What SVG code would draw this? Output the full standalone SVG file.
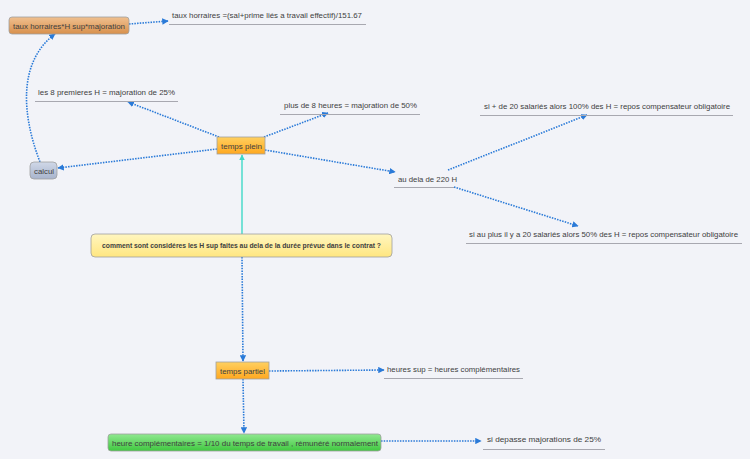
<svg xmlns="http://www.w3.org/2000/svg" width="750" height="459" viewBox="0 0 750 459">
<style>
text{font-family:"Liberation Sans","DejaVu Sans",sans-serif;font-size:7.6px;fill:#404040}
.c{fill:none;stroke:#2a7ad8;stroke-width:1.6;stroke-dasharray:1.5 1.2;marker-end:url(#a)}
.u{stroke:#a8a8b0;stroke-width:1}
.b{stroke:#a0a0a0;stroke-width:0.8}
</style>
<defs>
<marker id="a" viewBox="0 0 10 10" refX="9" refY="5" markerWidth="4" markerHeight="4" orient="auto"><path d="M0,0 L10,5 L0,10 Z" fill="#2a7ad8"/></marker>
<marker id="t" viewBox="0 0 10 10" refX="9" refY="5" markerWidth="4" markerHeight="4" orient="auto"><path d="M0,0 L10,5 L0,10 Z" fill="#40d8c8"/></marker>
<linearGradient id="og" x1="0" y1="0" x2="0" y2="1"><stop offset="0" stop-color="#f0c090"/><stop offset="1" stop-color="#d8904c"/></linearGradient>
<linearGradient id="yg" x1="0" y1="0" x2="0" y2="1"><stop offset="0" stop-color="#fff6c0"/><stop offset="1" stop-color="#ffe680"/></linearGradient>
<linearGradient id="pg" x1="0" y1="0" x2="0" y2="1"><stop offset="0" stop-color="#ffd060"/><stop offset="1" stop-color="#ffa820"/></linearGradient>
<linearGradient id="gg" x1="0" y1="0" x2="0" y2="1"><stop offset="0" stop-color="#90e890"/><stop offset="1" stop-color="#40c840"/></linearGradient>
<linearGradient id="bg" x1="0" y1="0" x2="0" y2="1"><stop offset="0" stop-color="#d0d8e8"/><stop offset="1" stop-color="#a8b4cc"/></linearGradient>
</defs>
<rect width="750" height="459" fill="#f2f3f8"/>
<g id="connectors">
<path class="c" d="M129,24 L168,21"/>
<path class="c" d="M40,162 C20,110 20,60 55,34"/>
<path class="c" d="M219,137 L128,102"/>
<path class="c" d="M264,137 L328,113"/>
<path class="c" d="M217,149 L58,168"/>
<path class="c" d="M265,150 L395,172"/>
<path class="c" d="M448,170 L587,115"/>
<path class="c" d="M454,187 L578,226"/>
<path d="M242,234 L242,155" fill="none" stroke="#40d8c8" stroke-width="1.4" marker-end="url(#t)"/>
<path class="c" d="M242,257 L243,361"/>
<path class="c" d="M269,371 L384,370"/>
<path class="c" d="M243,379 L244,433"/>
<path class="c" d="M381,441 L481,441"/>
</g>
<g id="taux-calc"><rect x="9" y="17" width="120" height="17" rx="3" fill="url(#og)" class="b"/><text x="13" y="28.5" textLength="112" lengthAdjust="spacingAndGlyphs">taux horraires*H sup*majoration</text></g>
<g id="taux-def"><text x="172" y="18" textLength="190" lengthAdjust="spacingAndGlyphs">taux horraires =(sal+prime liés a travail effectif)/151.67</text><line class="u" x1="169" y1="24.5" x2="366" y2="24.5"/></g>
<g id="premieres"><text x="38" y="95" textLength="137" lengthAdjust="spacingAndGlyphs">les 8 premieres H = majoration de 25%</text><line class="u" x1="35" y1="101.5" x2="178" y2="101.5"/></g>
<g id="plus8"><text x="284" y="108" textLength="133" lengthAdjust="spacingAndGlyphs">plus de 8 heures = majoration de 50%</text><line class="u" x1="280" y1="114.5" x2="420" y2="114.5"/></g>
<g id="temps-plein"><rect x="217" y="137" width="48" height="17" fill="url(#pg)" class="b"/><text x="221" y="148.5" textLength="41" lengthAdjust="spacingAndGlyphs">temps plein</text></g>
<g id="calcul"><rect x="30" y="162" width="27" height="17" rx="4" fill="url(#bg)" class="b"/><text x="34" y="173.5" textLength="20" lengthAdjust="spacingAndGlyphs">calcul</text></g>
<g id="au-dela"><text x="398" y="182" textLength="59" lengthAdjust="spacingAndGlyphs">au dela de 220 H</text><line class="u" x1="394" y1="187.5" x2="454" y2="187.5"/></g>
<g id="plus20"><text x="484" y="109" textLength="246" lengthAdjust="spacingAndGlyphs">si + de 20 salariés alors 100% des H = repos compensateur obligatoire</text><line class="u" x1="480" y1="115.5" x2="733" y2="115.5"/></g>
<g id="auplus20"><text x="469" y="237" textLength="269" lengthAdjust="spacingAndGlyphs">si au plus il y a 20 salariés alors 50% des H = repos compensateur obligatoire</text><line class="u" x1="466" y1="243.5" x2="742" y2="243.5"/></g>
<g id="question"><rect x="91" y="234" width="301" height="23" rx="4" fill="url(#yg)" class="b"/><text x="102" y="248" textLength="279" lengthAdjust="spacingAndGlyphs" style="font-size:6.5px;font-weight:bold">comment sont considéres les H sup faites au dela de la durée prévue dans le contrat ?</text></g>
<g id="temps-partiel"><rect x="216" y="362" width="53" height="17" fill="url(#pg)" class="b"/><text x="220" y="373.5" textLength="45" lengthAdjust="spacingAndGlyphs">temps partiel</text></g>
<g id="heures-sup"><text x="387" y="372" textLength="133" lengthAdjust="spacingAndGlyphs">heures sup = heures complémentaires</text><line class="u" x1="384" y1="378.5" x2="523" y2="378.5"/></g>
<g id="heure-comp"><rect x="108" y="434" width="273" height="17" rx="3" fill="url(#gg)" class="b"/><text x="112" y="445.5" textLength="266" lengthAdjust="spacingAndGlyphs">heure complémentaires = 1/10 du temps de travail , rémunéré normalement</text></g>
<g id="depasse"><text x="487" y="442" textLength="114" lengthAdjust="spacingAndGlyphs">si depasse majorations de 25%</text><line class="u" x1="483" y1="449.5" x2="605" y2="449.5"/></g>
</svg>
